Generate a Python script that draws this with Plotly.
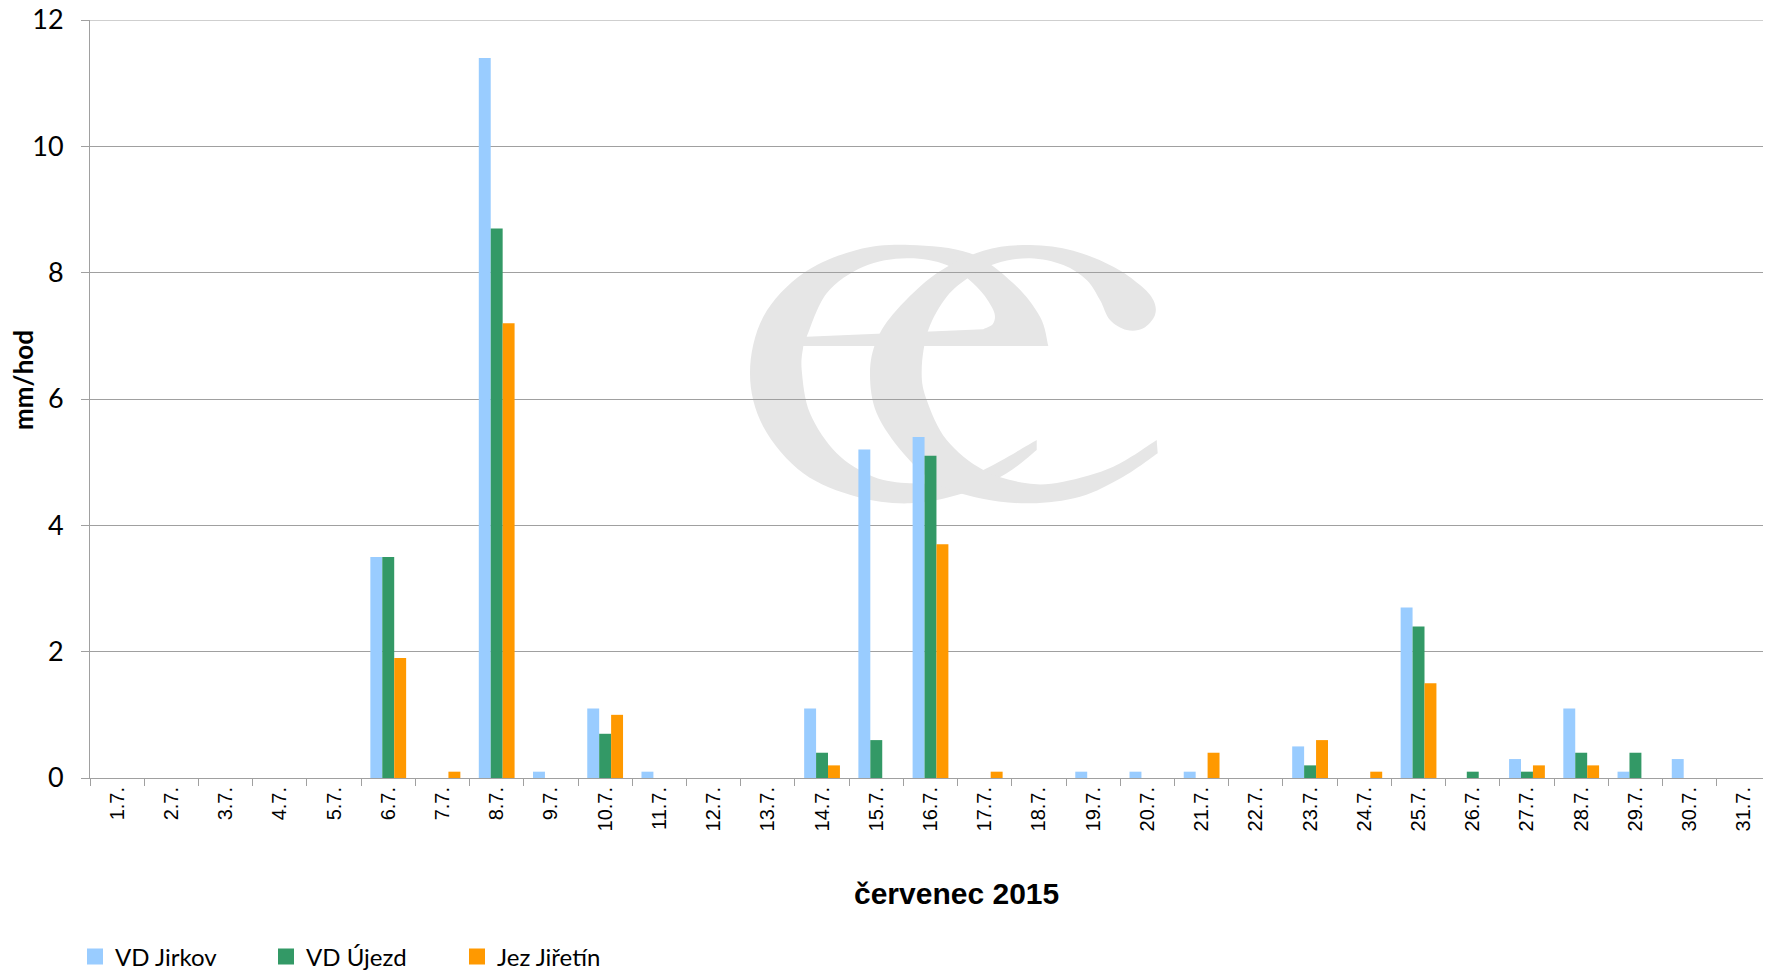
import plotly.graph_objects as go

# hourly rainfall maxima, July 2015
days = [f"{d}.7." for d in range(1, 32)]
jirkov = [0, 0, 0, 0, 0, 3.5, 0, 11.4, 0.1, 1.1, 0.1, 0, 0, 1.1, 5.2, 5.4,
          0, 0, 0.1, 0.1, 0.1, 0, 0.5, 0, 2.7, 0, 0.3, 1.1, 0.1, 0.3, 0]
ujezd = [0, 0, 0, 0, 0, 3.5, 0, 8.7, 0, 0.7, 0, 0, 0, 0.4, 0.6, 5.1,
         0, 0, 0, 0, 0, 0, 0.2, 0, 2.4, 0.1, 0.1, 0.4, 0.4, 0, 0]
jiretin = [0, 0, 0, 0, 0, 1.9, 0.1, 7.2, 0, 1.0, 0, 0, 0, 0.2, 0, 3.7,
           0.1, 0, 0, 0, 0.4, 0, 0.6, 0.1, 1.5, 0, 0.2, 0.2, 0, 0, 0]
series_names = ["VD Jirkov", "VD Újezd", "Jez Jiřetín"]
series_colors = ["#99CCFF", "#339966", "#FF9900"]

# the page body has an 8px margin, so the figure is drawn 8px in from the corner
OFF = 8
W, H = 1771 - OFF, 971 - OFF
ML, MR, MT, MB = 90 - OFF, 0, 20 - OFF, 193

# watermark logo outline (page pixels)
e_inner = [(1036.7, 440), (983.3, 470), (946.7, 481.7), (910, 483.3), (873.3, 476.7),
           (836.7, 453.3), (810, 413.3), (801.7, 370), (803.3, 346)]
e_outer = [(1048.3, 346), (1040, 316.7), (1013.3, 283.3), (970, 253.3), (910, 245),
           (856.7, 250), (803.3, 273.3), (763.3, 316.7), (750, 373.3), (763.3, 426.7),
           (803.3, 473.3), (856.7, 496.7), (910, 503.3), (963.3, 493.3), (1006.7, 473.3),
           (1036.7, 450)]
e_hole = [(806.7, 336.7), (826.7, 293.3), (863.3, 266.7), (906.7, 258.3), (946.7, 265),
          (976.7, 286.7), (993.3, 310), (993.3, 323.3), (983.3, 329.3)]
c_shape = [(1156.7, 440), (1113.3, 466.7), (1063.3, 481.7), (1026.7, 483.3), (983.3, 470),
           (946.7, 440), (926.7, 400), (921.7, 370), (928.3, 330), (946.7, 296.7),
           (970, 276.7), (996.7, 263.3), (1030, 258.3), (1063.3, 265), (1086.7, 280),
           (1100, 300), (1110, 320), (1126.7, 330), (1143.3, 328.3), (1155, 315),
           (1153.3, 300), (1140, 285), (1113.3, 266.7), (1073.3, 250.7), (1030, 245),
           (983.3, 250.7), (936.7, 273.3), (896.7, 310), (876.7, 340), (870, 373.3),
           (876.7, 413.3), (903.3, 453.3), (936.7, 483.3), (980, 498.3), (1030, 503.3),
           (1080, 496.7), (1123.3, 476.7), (1157.7, 453.3)]


def px_x(v):
    return (v - OFF - ML) / (W - ML - MR)


def px_y(v):
    return (H - MB - (v - OFF)) / (H - MT - MB)


def smooth(points):
    pts = [(px_x(x), px_y(y)) for x, y in points]
    s = ""
    for i in range(len(pts) - 1):
        p0 = pts[i - 1] if i > 0 else pts[i]
        p1, p2 = pts[i], pts[i + 1]
        p3 = pts[i + 2] if i + 2 < len(pts) else p2
        c1 = (p1[0] + (p2[0] - p0[0]) / 6, p1[1] + (p2[1] - p0[1]) / 6)
        c2 = (p2[0] - (p3[0] - p1[0]) / 6, p2[1] - (p3[1] - p1[1]) / 6)
        s += f" C{c1[0]:.5f},{c1[1]:.5f} {c2[0]:.5f},{c2[1]:.5f} {p2[0]:.5f},{p2[1]:.5f}"
    return s


def move(pt, cmd="M"):
    return f" {cmd}{px_x(pt[0]):.5f},{px_y(pt[1]):.5f}"


e_path = (move(e_inner[0]) + smooth(e_inner) + move(e_outer[0], "L") + smooth(e_outer)
          + " Z" + move(e_hole[0]) + smooth(e_hole) + " Z")
c_path = move(c_shape[0]) + smooth(c_shape) + " Z"

fig = go.Figure()
for name, vals, color in zip(series_names, [jirkov, ujezd, jiretin], series_colors):
    fig.add_trace(go.Bar(
        x=days, y=vals, name=name, showlegend=False,
        marker=dict(color=color, line=dict(width=0)),
    ))
# legend entries with bigger square swatches
for name, color in zip(series_names, series_colors):
    fig.add_trace(go.Scatter(
        x=[None], y=[None], mode="markers", name=name,
        marker=dict(symbol="square", size=16, color=color),
    ))

logo_color = "#E6E6E6"

fig.update_layout(
    width=W, height=H,
    margin=dict(l=ML, r=MR, t=MT, b=MB, autoexpand=False),
    paper_bgcolor="white", plot_bgcolor="white",
    barmode="group", bargap=0.34, bargroupgap=0,
    font=dict(family="Lato", color="black"),
    shapes=[
        dict(type="path", path=e_path, xref="paper", yref="paper", layer="below",
             fillcolor=logo_color, fillrule="evenodd", line=dict(width=0)),
        dict(type="path", path=c_path, xref="paper", yref="paper", layer="below",
             fillcolor=logo_color, line=dict(width=0)),
        # top gridline at 12
        dict(type="line", xref="paper", yref="y", x0=0, x1=1, y0=12, y1=12,
             line=dict(color="#A0A0A0", width=1), layer="below"),
    ],
    showlegend=True,
    legend=dict(
        orientation="h", x=px_x(75), xanchor="left", y=px_y(957), yanchor="middle",
        font=dict(family="Lato", size=24, color="black"),
        entrywidth=146, entrywidthmode="pixels",
        traceorder="normal", itemsizing="trace",
    ),
    annotations=[
        dict(text="<b>mm/hod</b>", textangle=-90, xref="paper", yref="paper",
             x=px_x(23), y=px_y(380), xanchor="center", yanchor="middle",
             showarrow=False, font=dict(family="Lato", size=26, color="black")),
        dict(text="<b>červenec 2015</b>", xref="paper", yref="paper",
             x=px_x(956), y=px_y(893), xanchor="center", yanchor="middle",
             showarrow=False, font=dict(family="Liberation Sans", size=30, color="black")),
    ],
)

fig.update_xaxes(
    type="category", showgrid=False, automargin=False,
    showline=True, linecolor="#A0A0A0", linewidth=1,
    ticks="outside", tickson="boundaries", ticklen=7, tickcolor="#A0A0A0",
    tickangle=-90,
    tickfont=dict(family="Liberation Sans", size=20, color="black"),
)
fig.update_yaxes(
    range=[0, 12], dtick=2, automargin=False,
    showgrid=True, gridcolor="#A0A0A0", gridwidth=1, zeroline=False,
    showline=True, linecolor="#A0A0A0", linewidth=1,
    ticks="outside", ticklen=8, tickcolor="#A0A0A0",
    ticklabelstandoff=12, ticklabeloverflow="allow",
    tickfont=dict(family="Lato", size=27, color="black"),
)

fig.write_html("out.html", config={"displayModeBar": False})
